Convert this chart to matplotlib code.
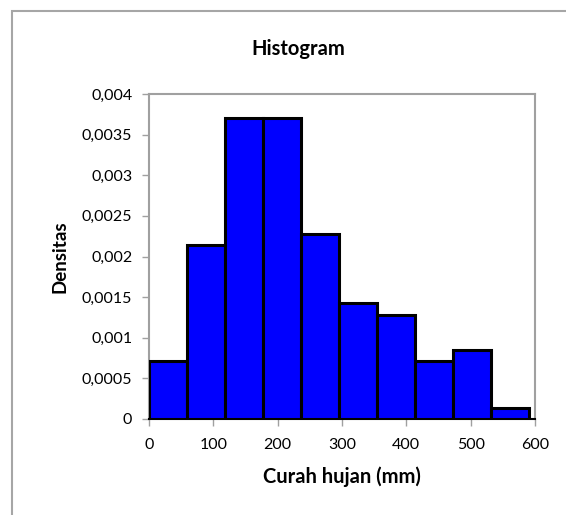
import matplotlib.pyplot as plt
import matplotlib.patches as mpatches
from matplotlib.ticker import FuncFormatter

# batas kelas (mm) dan densitas tiap kelas
bin_edges = [0, 59, 118, 177, 236, 295, 354, 413, 472, 531, 590]
densitas = [0.00071, 0.00214, 0.00370, 0.00370, 0.00228,
            0.00143, 0.00128, 0.00071, 0.00085, 0.00014]
x_ticks = [0, 100, 200, 300, 400, 500, 600]
y_ticks = [0, 0.0005, 0.001, 0.0015, 0.002, 0.0025, 0.003, 0.0035, 0.004]

plt.rcParams['font.family'] = ['Lato', 'DejaVu Sans']

W, H = 566, 515
fig = plt.figure(figsize=(W / 100, H / 100), dpi=100)

# bingkai area chart (hanya sisi kiri dan atas terlihat)
fig.patches.append(mpatches.Rectangle((12 / W, -0.1), 1.2, (H - 11) / H + 0.1,
                                      transform=fig.transFigure, fill=False,
                                      edgecolor='#a6a6a6', linewidth=1.5))

ax = fig.add_axes([149 / W, (H - 419) / H, (535 - 149) / W, (419 - 94) / H])

widths = [bin_edges[i + 1] - bin_edges[i] for i in range(len(densitas))]
ax.bar(bin_edges[:-1], densitas, width=widths, align='edge',
       color='#0000ff', edgecolor='black', linewidth=2.2, zorder=3)

ax.set_xlim(0, 600)
ax.set_ylim(0, 0.004)
ax.set_xticks(x_ticks)
ax.set_yticks(y_ticks)
ax.yaxis.set_major_formatter(FuncFormatter(
    lambda v, p: '0' if v == 0 else ('%g' % v).replace('.', ',')))

for s in ['top', 'right', 'left']:
    ax.spines[s].set_color('#a0a0a0')
    ax.spines[s].set_linewidth(1.5)
ax.spines['bottom'].set_color('black')
ax.spines['bottom'].set_linewidth(1.5)

ax.tick_params(axis='y', direction='out', length=5, width=1, color='#a0a0a0',
               pad=7, labelsize=11.5)
ax.tick_params(axis='x', direction='out', length=5, width=1, color='#a0a0a0',
               pad=9, labelsize=11.5)

fig.text(298 / W, 1 - 49 / H, 'Histogram', ha='center', va='center',
         fontsize=14.5, fontweight='bold')
fig.text(342 / W, 1 - 477 / H, 'Curah hujan (mm)', ha='center', va='center',
         fontsize=14.5, fontweight='bold')
fig.text(60 / W, 1 - 257 / H, 'Densitas', ha='center', va='center',
         rotation=90, fontsize=13.5, fontweight='bold')

fig.savefig('out.png', dpi=100)
